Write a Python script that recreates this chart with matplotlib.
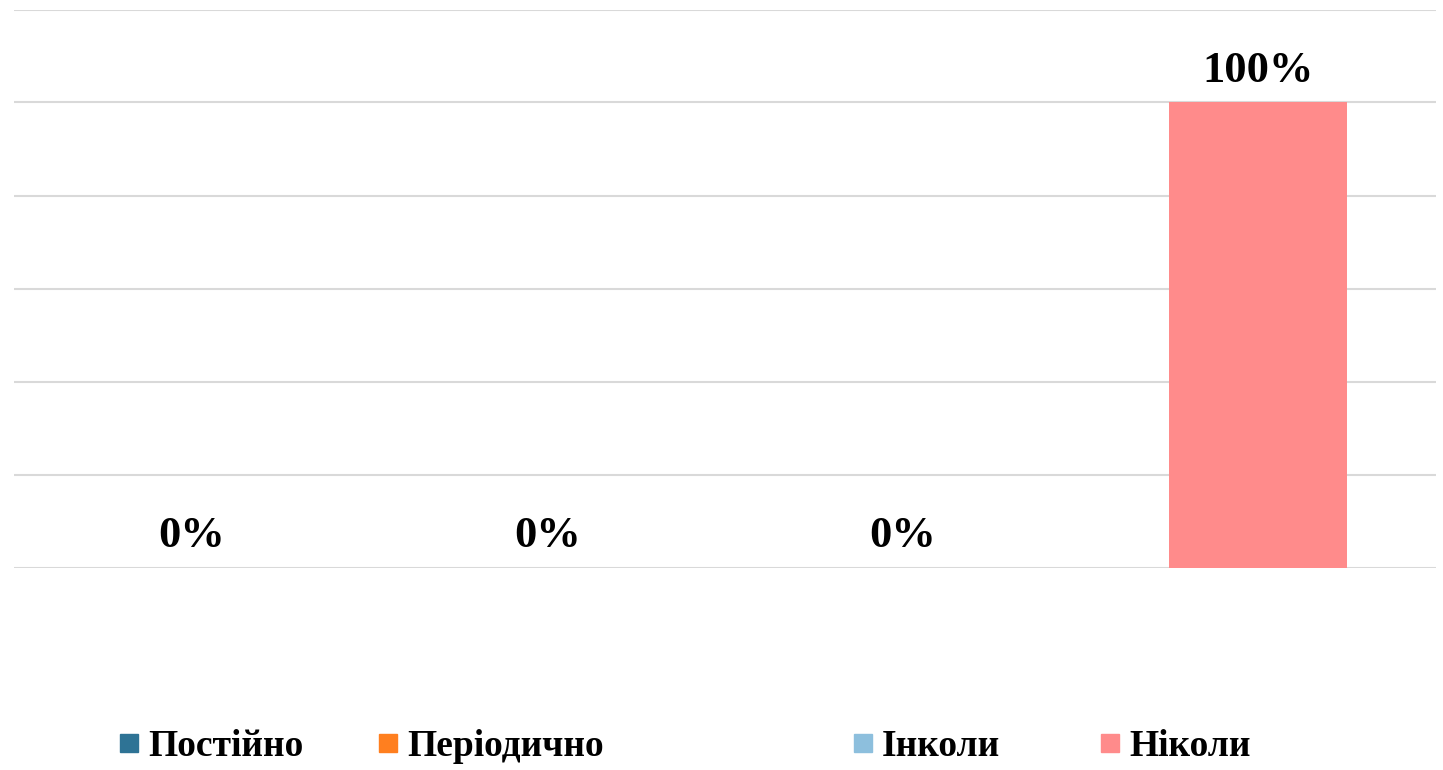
import matplotlib.pyplot as plt
from matplotlib.lines import Line2D

# -----
# DATA
# -----
categories = ["Постійно", "Періодично", "Інколи", "Ніколи"]
values = [0, 0, 0, 100]
colors = ["#2E7395", "#FF7F1F", "#8DBFDD", "#FF8B8B"]
legend_x = [118, 377, 852, 1099]  # legend entry left edges, pixels

plt.rcParams["font.family"] = ["Liberation Serif", "DejaVu Serif"]
plt.rcParams["font.weight"] = "bold"

W, H = 1443, 770
fig = plt.figure(figsize=(W / 100, H / 100), dpi=100)
ax = fig.add_axes([14 / W, 1 - 567.5 / H, (1436 - 14) / W, (567.5 - 9.5) / H])

x = range(len(categories))
ax.bar(x, values, width=0.5, color=colors, zorder=2)

for xi, v in zip(x, values):
    ax.annotate(f"{v}%", xy=(xi, v), xytext=(0, 15), textcoords="offset points",
                ha="center", va="baseline", fontsize=32, fontweight="bold")

ax.set_xlim(-0.5, len(categories) - 0.5)
ax.set_ylim(0, 120)
ax.set_yticks(range(0, 121, 20))
ax.yaxis.grid(True, color="#D9D9D9", linewidth=1.5, zorder=0)
ax.set_axisbelow(True)
ax.tick_params(left=False, bottom=False, labelleft=False, labelbottom=False)
for s in ax.spines.values():
    s.set_visible(False)

for name, c, lx in zip(categories, colors, legend_x):
    h = Line2D([], [], marker="s", linestyle="none", markersize=13, color=c)
    fig.legend([h], [name], loc="center left", bbox_to_anchor=(lx / W, 1 - 747 / H),
               frameon=False, handlelength=0.6, handletextpad=0.2,
               borderpad=0, borderaxespad=0, prop={"weight": "bold", "size": 27})

fig.savefig("out.png", dpi=100)
